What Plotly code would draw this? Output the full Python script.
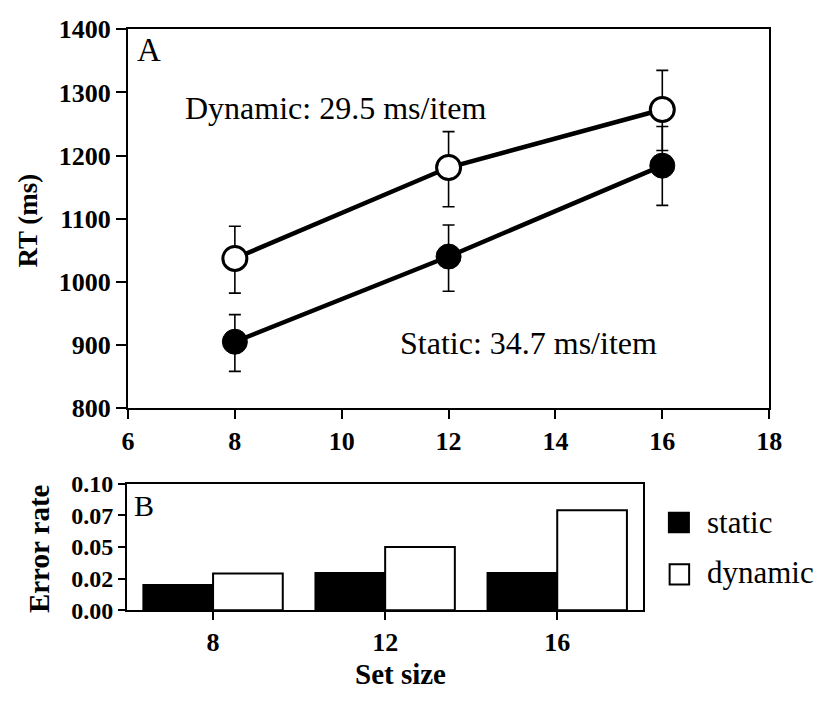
import plotly.graph_objects as go

# ---- Data ----
set_sizes = [8, 12, 16]
dyn_rt = [1037, 1181, 1273]
dyn_err_plus = [51, 57, 62]
dyn_err_minus = [55, 62, 65]
stat_rt = [905, 1040, 1184]
stat_err_plus = [43, 50, 62]
stat_err_minus = [47, 55, 63]

bar_categories = ["8", "12", "16"]
err_static = [0.020, 0.0295, 0.0295]
err_dynamic = [0.029, 0.050, 0.079]

rt_ticks = [800, 900, 1000, 1100, 1200, 1300, 1400]
x_ticks = [6, 8, 10, 12, 14, 16, 18]
err_tickvals = [0, 0.025, 0.05, 0.075, 0.1]
err_ticktext = ["0.00", "0.02", "0.05", "0.07", "0.10"]

W, H = 829, 701
SERIF = "Liberation Serif, Times New Roman, serif"


def px_x(p):
    return p / W


def px_y(p):
    return 1 - p / H


fig = go.Figure()

# ---- Panel A: RT vs set size ----
fig.add_trace(go.Scatter(
    x=set_sizes, y=dyn_rt, mode="lines+markers", name="Dynamic",
    line=dict(color="black", width=4.5),
    marker=dict(symbol="circle", size=24, color="white",
                line=dict(color="black", width=3)),
    error_y=dict(type="data", symmetric=False, array=dyn_err_plus,
                 arrayminus=dyn_err_minus, color="black", thickness=1.6, width=6),
    xaxis="x", yaxis="y", showlegend=False))

fig.add_trace(go.Scatter(
    x=set_sizes, y=stat_rt, mode="lines+markers", name="Static",
    line=dict(color="black", width=4.5),
    marker=dict(symbol="circle", size=25, color="black",
                line=dict(color="black", width=1)),
    error_y=dict(type="data", symmetric=False, array=stat_err_plus,
                 arrayminus=stat_err_minus, color="black", thickness=1.6, width=6),
    xaxis="x", yaxis="y", showlegend=False))

# ---- Panel B: error rates ----
fig.add_trace(go.Bar(
    x=bar_categories, y=err_static, name="static",
    marker=dict(color="black", line=dict(color="black", width=2)),
    xaxis="x2", yaxis="y2", showlegend=False))
fig.add_trace(go.Bar(
    x=bar_categories, y=err_dynamic, name="dynamic",
    marker=dict(color="white", line=dict(color="black", width=2)),
    xaxis="x2", yaxis="y2", showlegend=False))

tickfont = dict(family=SERIF, size=26, color="black", weight="bold")
tickfont_b = dict(family=SERIF, size=26, color="black", weight="bold")
tickfont_by = dict(family=SERIF, size=24, color="black", weight="bold")

fig.update_layout(
    width=W, height=H,
    margin=dict(l=0, r=0, t=0, b=0),
    paper_bgcolor="white", plot_bgcolor="white",
    barmode="group", bargap=0.19, bargroupgap=0,
    xaxis=dict(domain=[px_x(124), px_x(781)], range=[6, 18],
               tickvals=x_ticks, ticks="outside", ticklen=9, tickwidth=2,
               tickcolor="black", showline=True, linewidth=2, linecolor="black",
               mirror=True, showgrid=False, zeroline=False, tickfont=tickfont,
               anchor="y"),
    yaxis=dict(domain=[px_y(411), px_y(16)], range=[800, 1400],
               tickvals=rt_ticks, ticks="outside", ticklen=10, tickwidth=2,
               tickcolor="black", showline=True, linewidth=2, linecolor="black",
               mirror=True, showgrid=False, zeroline=False, tickfont=tickfont,
               anchor="x"),
    xaxis2=dict(domain=[px_x(123), px_x(652)], type="category",
                range=[-0.5, 2.5], ticks="outside", ticklen=8, tickwidth=2,
                tickcolor="black", showline=True, linewidth=2, linecolor="black",
                mirror=True, showgrid=False, zeroline=False, tickfont=tickfont_b,
                anchor="y2"),
    yaxis2=dict(domain=[px_y(622), px_y(490)], range=[0, 0.1],
                tickvals=err_tickvals, ticktext=err_ticktext,
                ticks="outside", ticklen=7, tickwidth=2,
                tickcolor="black", showline=True, linewidth=2, linecolor="black",
                mirror=True, showgrid=False, zeroline=False, tickfont=tickfont_by,
                anchor="x2"),
)

annots = [
    dict(text="A", x=px_x(131), y=px_y(38), xanchor="left", yanchor="middle",
         font=dict(family=SERIF, size=33, color="black")),
    dict(text="Dynamic: 29.5 ms/item", x=px_x(337), y=px_y(98),
         xanchor="center", yanchor="middle",
         font=dict(family=SERIF, size=32, color="black")),
    dict(text="Static: 34.7 ms/item", x=px_x(534), y=px_y(343),
         xanchor="center", yanchor="middle",
         font=dict(family=SERIF, size=32, color="black")),
    dict(text="B", x=px_x(128), y=px_y(513), xanchor="left", yanchor="middle",
         font=dict(family=SERIF, size=30, color="black")),
    dict(text="RT (ms)", x=px_x(22), y=px_y(215), textangle=-90,
         xanchor="center", yanchor="middle",
         font=dict(family=SERIF, size=27, color="black", weight="bold")),
    dict(text="Error rate", x=px_x(33), y=px_y(558), textangle=-90,
         xanchor="center", yanchor="middle",
         font=dict(family=SERIF, size=29, color="black", weight="bold")),
    dict(text="Set size", x=px_x(403), y=px_y(689),
         xanchor="center", yanchor="middle",
         font=dict(family=SERIF, size=29, color="black", weight="bold")),
    dict(text="static", x=px_x(715), y=px_y(530), xanchor="left", yanchor="middle",
         font=dict(family=SERIF, size=31, color="black")),
    dict(text="dynamic", x=px_x(715), y=px_y(583), xanchor="left", yanchor="middle",
         font=dict(family=SERIF, size=31, color="black")),
]
for a in annots:
    a.update(xref="paper", yref="paper", showarrow=False)
fig.update_layout(annotations=annots)

# legend swatches
fig.update_layout(shapes=[
    dict(type="rect", xref="paper", yref="paper",
         x0=px_x(678), x1=px_x(699), y0=px_y(541), y1=px_y(520),
         fillcolor="black", line=dict(color="black", width=1.5)),
    dict(type="rect", xref="paper", yref="paper",
         x0=px_x(679), x1=px_x(699), y0=px_y(595), y1=px_y(574),
         fillcolor="white", line=dict(color="black", width=2)),
])

fig.write_html("out.html")
